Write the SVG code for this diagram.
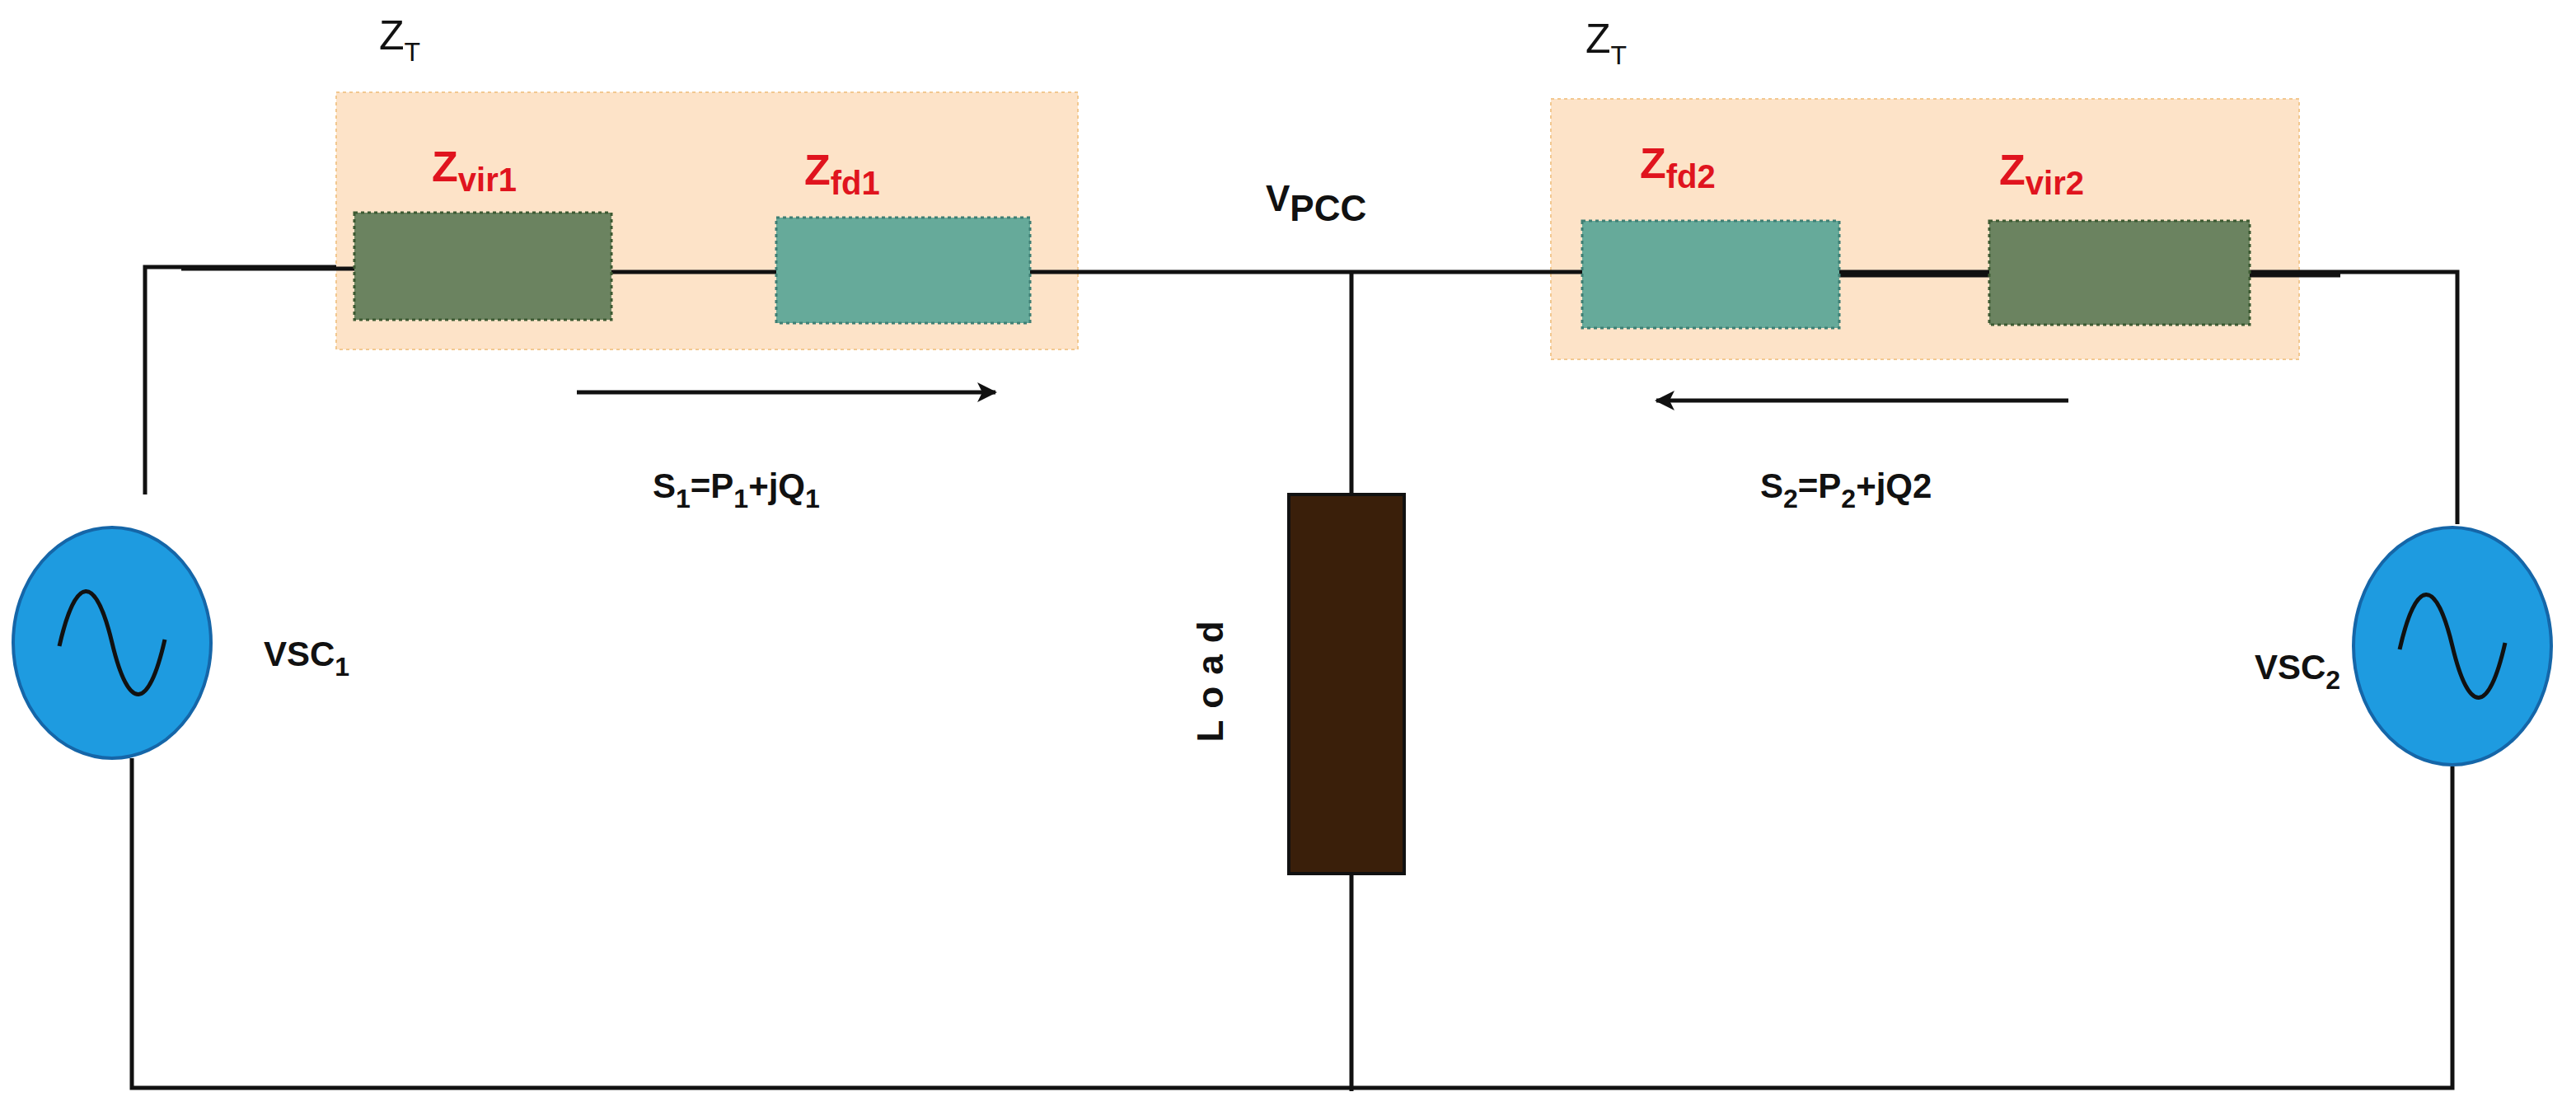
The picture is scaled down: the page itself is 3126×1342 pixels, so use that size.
<svg xmlns="http://www.w3.org/2000/svg" width="3126" height="1342" viewBox="0 0 3126 1342">
<style>
.t{font-family:"Liberation Sans",Arial,sans-serif;fill:#111;}
.b{font-weight:bold;}
.r{font-family:"Liberation Sans",Arial,sans-serif;fill:#e0141e;font-weight:bold;}
.w{stroke:#111;stroke-width:2.5;fill:none;}
.zt{fill:#fde3c8;stroke:#f2c890;stroke-width:1;stroke-dasharray:2 2;}
.vir{fill:#6b8360;stroke:#3d5a32;stroke-width:1.5;stroke-dasharray:2 2;}
.fd{fill:#66aa9a;stroke:#3f7f74;stroke-width:1.5;stroke-dasharray:2 2;}
.src{fill:#1e9be0;stroke:#1566a8;stroke-width:2;}
</style>
<defs>
<marker id="ah" markerWidth="12" markerHeight="12" refX="11" refY="6" orient="auto" markerUnits="userSpaceOnUse">
<path d="M0,0 L12,6 L0,12 L3,6 Z" fill="#111"/>
</marker>
</defs>
<rect width="3126" height="1342" fill="#fff"/>
<g transform="scale(2)">
<g id="ztbox1"><rect class="zt" x="204" y="56" width="450" height="156"/><text class="t" x="230" y="30" font-size="25">Z<tspan font-size="16" dy="7">T</tspan></text></g>
<g id="ztbox2"><rect class="zt" x="941" y="60" width="454" height="158"/><text class="t" x="962" y="32" font-size="25">Z<tspan font-size="16" dy="7">T</tspan></text></g>
<g id="connectors">
<path class="w" d="M88,300 L88,162 L204,162"/>
<path class="w" stroke-width="4" d="M110,163 L215,163 M371,165 L471,165"/>
<path class="w" d="M625,165 L1491,165 L1491,318"/>
<path class="w" stroke-width="4" d="M1116,167 L1207,167 M1365,167 L1420,167"/>
<path class="w" d="M80,460 L80,660 L1488,660 L1488,465"/>
<path class="w" d="M820,165 L820,300 M820,530 L820,662"/>
<line class="w" stroke-width="3.5" x1="350" y1="238" x2="604" y2="238" marker-end="url(#ah)"/>
<line class="w" stroke-width="3.5" x1="1255" y1="243" x2="1005" y2="243" marker-end="url(#ah)"/>
</g>
<g id="zvir1"><rect class="vir" x="215" y="129" width="156" height="65"/><text class="r" x="262" y="110" font-size="26">Z<tspan font-size="20" dy="6">vir1</tspan></text></g>
<g id="zfd1"><rect class="fd" x="471" y="132" width="154" height="64"/><text class="r" x="488" y="112" font-size="26">Z<tspan font-size="20" dy="6">fd1</tspan></text></g>
<g id="zfd2"><rect class="fd" x="960" y="134" width="156" height="65"/><text class="r" x="995" y="108" font-size="26">Z<tspan font-size="20" dy="6">fd2</tspan></text></g>
<g id="zvir2"><rect class="vir" x="1207" y="134" width="158" height="63"/><text class="r" x="1213" y="112" font-size="26">Z<tspan font-size="20" dy="6">vir2</tspan></text></g>
<g id="vpcc"><text class="t b" x="768" y="128" font-size="22">V<tspan dy="6">PCC</tspan></text></g>
<g id="load"><rect x="782" y="300" width="70" height="230" fill="#3a1f0a" stroke="#111" stroke-width="2"/><text class="t b" font-size="22" letter-spacing="7" text-anchor="middle" transform="translate(742,410) rotate(-90)">Load</text></g>
<g id="vsc1"><ellipse class="src" cx="68" cy="390" rx="60" ry="70"/><path d="M36,392 C46,348 58,348 68,390 C78,432 90,432 100,388" fill="none" stroke="#111" stroke-width="2.5"/><text class="t b" x="160" y="404" font-size="21">VSC<tspan font-size="16" dy="6">1</tspan></text></g>
<g id="vsc2"><ellipse class="src" cx="1488" cy="392" rx="60" ry="72"/><path d="M1456,394 C1466,350 1478,350 1488,392 C1498,434 1510,434 1520,390" fill="none" stroke="#111" stroke-width="2.5"/><text class="t b" x="1368" y="412" font-size="21">VSC<tspan font-size="16" dy="6">2</tspan></text></g>
<g id="s1"><text class="t b" x="396" y="302" font-size="21">S<tspan font-size="16" dy="6">1</tspan><tspan dy="-6">=P</tspan><tspan font-size="16" dy="6">1</tspan><tspan dy="-6">+jQ</tspan><tspan font-size="16" dy="6">1</tspan></text></g>
<g id="s2"><text class="t b" x="1068" y="302" font-size="21">S<tspan font-size="16" dy="6">2</tspan><tspan dy="-6">=P</tspan><tspan font-size="16" dy="6">2</tspan><tspan dy="-6">+jQ2</tspan></text></g>
</g>
</svg>
